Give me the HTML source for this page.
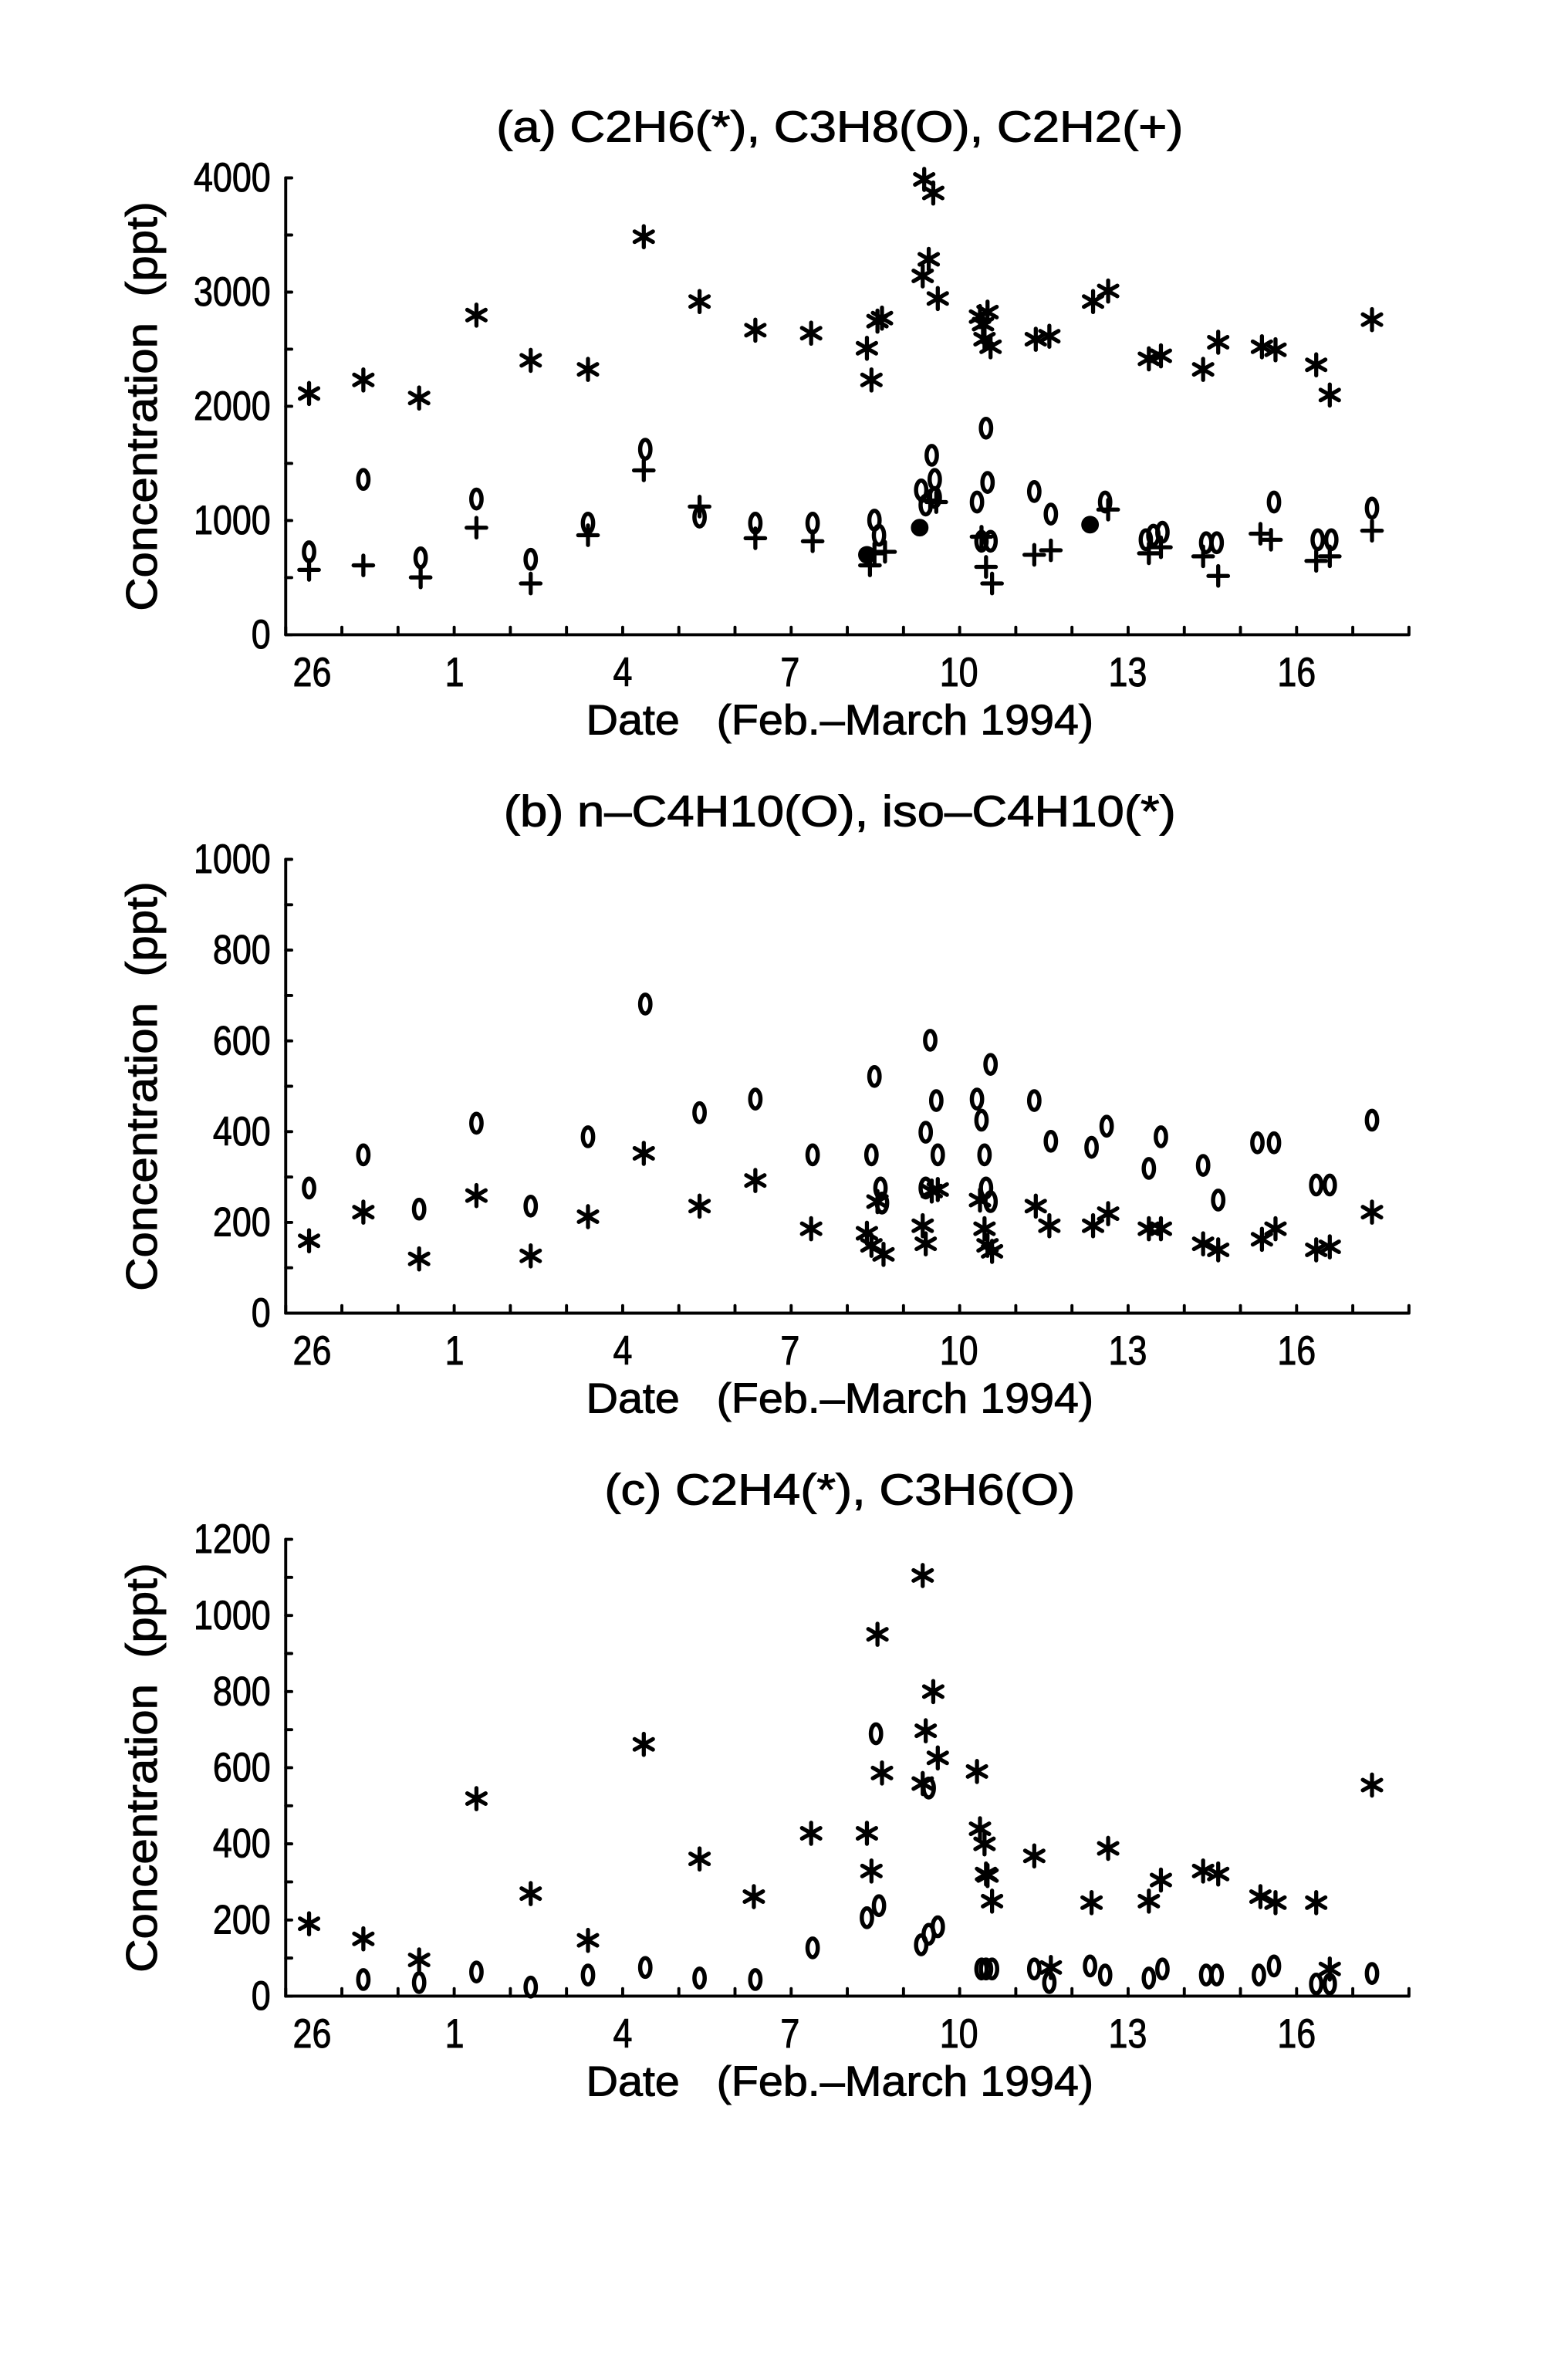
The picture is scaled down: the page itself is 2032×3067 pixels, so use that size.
<!DOCTYPE html>
<html><head><meta charset="utf-8"><style>
html,body{margin:0;padding:0;background:#fff;}
svg{display:block;}
text{font-family:"Liberation Sans",sans-serif;fill:#000;stroke:#000;stroke-width:0.5;white-space:pre;}
</style></head><body>
<svg id="s" width="2032" height="3067" viewBox="0 0 1040 1570" preserveAspectRatio="none" xmlns="http://www.w3.org/2000/svg">
<g id="g" stroke="#000" stroke-width="2.7" fill="none" stroke-linecap="round"></g>
<g id="t"></g>
</svg>
<script>
var g=document.getElementById('g'),t=document.getElementById('t');
var NS='http://www.w3.org/2000/svg';
function L(x1,y1,x2,y2,w){var e=document.createElementNS(NS,'line');e.setAttribute('x1',x1);e.setAttribute('y1',y1);e.setAttribute('x2',x2);e.setAttribute('y2',y2);if(w)e.setAttribute('stroke-width',w);g.appendChild(e);}
function T(x,y,s,fs,anchor,rot,sx){var e=document.createElementNS(NS,'text');e.textContent=s;e.setAttribute('font-size',fs);e.setAttribute('text-anchor',anchor||'middle');
var tr='translate('+x+','+y+')';if(rot)tr+=' rotate('+rot+')';tr+=' scale('+(sx||0.85)+',1)';e.setAttribute('transform',tr);t.appendChild(e);}
function star(x,y){var r=7;L(x,y-r,x,y+r);L(x-r*0.87,y-r*0.5,x+r*0.87,y+r*0.5);L(x-r*0.87,y+r*0.5,x+r*0.87,y-r*0.5);}
function plus(x,y){var r=6.5;L(x-r,y,x+r,y);L(x,y-r,x,y+r);}
function zero(x,y){var e=document.createElementNS(NS,'ellipse');e.setAttribute('cx',x);e.setAttribute('cy',y);e.setAttribute('rx',3.4);e.setAttribute('ry',6.2);e.setAttribute('stroke-width',2.8);g.appendChild(e);}
function dot(x,y){var e=document.createElementNS(NS,'circle');e.setAttribute('cx',x);e.setAttribute('cy',y);e.setAttribute('r',4.5);e.setAttribute('fill','#000');g.appendChild(e);}
function panel(title,ty,yTop,y0,max,labStep,minStep){
  var x0=189.5,x1=934;
  T(557,ty+10,title,29,'middle',0,1.12);
  L(x0,yTop,x0,y0,2);L(x0,y0,x1,y0,2);
  for(var v=0;v<=max;v+=minStep){var y=y0-(y0-yTop)*v/max;L(x0,y,x0+4,y,2);
    if(v%labStep==0)T(x0-10,y+9,String(v),27,'end',0,0.85);}
  for(var k=0;k<=20;k++){var x=x0+37.25*k;L(x,y0,x,y0-5,2);}
  var labs=[[207,'26'],[301.5,'1'],[413,'4'],[524,'7'],[636,'10'],[748,'13'],[860,'16']];
  labs.forEach(function(a){T(a[0],y0+34,a[1],27,'middle',0,0.85);});
  T(557,y0+66,'Date\u00a0\u00a0\u00a0(Feb.\u2013March 1994)',28,'middle',0,1.05);
  T(104,(yTop+y0)/2,'Concentration\u00a0\u00a0(ppt)',29,'middle',-90,1.06);
}
panel('(a) C2H6(*), C3H8(O), C2H2(+)',84,118,421,4000,1000,500);
panel('(b) n\u2013C4H10(O), iso\u2013C4H10(*)',538,570,871,1000,200,100);
panel('(c) C2H4(*), C3H6(O)',988,1021,1324,1200,200,100);
var aS=[[205,261],[241,252],[278,264],[316,209],[352,239],[390,245],[427,157],[464,200],[501,219],[538,221],[575,231],[578,252],[582,213],[585,211],[612,183],[613,119],[619,128],[616,172],[622,198],[650,210],[652,215],[655,207],[653,225],[657,230],[687,225],[696,223],[725,200],[735,193],[762,238],[770,236],[798,245],[808,227],[837,230],[846,232],[873,242],[882,262],[910,212]];
var aO=[[205,366],[241,318],[279,370],[316,331],[352,371],[390,347],[428,298],[464,343],[501,347],[539,347],[580,345],[583,355],[611,325],[618,302],[620,318],[614,335],[620,330],[648,333],[654,284],[655,320],[651,359],[657,359],[686,326],[697,341],[733,333],[765,355],[771,353],[800,360],[807,360],[845,333],[874,358],[883,358],[910,337],[760,358]];
var aD=[[575,368],[610,350],[723,348]];
var aP=[[205,378],[241,375],[279,383],[316,350],[352,387],[390,355],[427,312],[464,336],[501,357],[539,359],[577,375],[580,367],[587,366],[617,332],[621,333],[651,356],[654,376],[658,387],[686,368],[697,365],[735,338],[762,367],[770,363],[798,369],[808,382],[836,354],[843,358],[873,372],[882,369],[910,352]];
var bO=[[205,788],[241,766],[278,802],[316,745],[352,800],[390,754],[428,666],[464,738],[501,729],[539,766],[580,714],[578,766],[584,788],[585,798],[617,690],[614,751],[621,730],[614,788],[622,766],[648,729],[651,743],[657,706],[653,766],[654,788],[657,797],[686,730],[697,757],[724,761],[734,747],[762,775],[770,754],[798,773],[808,796],[834,758],[845,758],[873,786],[882,786],[910,743]];
var bS=[[205,823],[241,804],[278,835],[316,793],[352,833],[390,807],[427,765],[464,800],[501,783],[538,815],[575,818],[578,826],[582,797],[586,832],[612,813],[614,825],[618,790],[622,789],[650,796],[653,815],[655,826],[658,830],[687,800],[696,813],[725,813],[735,805],[762,815],[770,815],[798,825],[808,829],[837,822],[846,815],[873,829],[882,827],[910,804]];
var cS=[[205,1276],[241,1286],[278,1300],[316,1193],[352,1256],[390,1287],[427,1157],[464,1233],[500,1258],[538,1216],[575,1216],[578,1241],[582,1084],[585,1176],[612,1045],[614,1148],[619,1122],[622,1166],[612,1183],[648,1175],[650,1213],[653,1223],[654,1243],[655,1244],[658,1261],[686,1231],[697,1305],[724,1262],[735,1226],[762,1261],[770,1247],[798,1241],[808,1243],[836,1258],[846,1262],[873,1262],[882,1306],[910,1184]];
var cO=[[241,1313],[278,1315],[316,1308],[352,1318],[390,1310],[428,1305],[464,1312],[501,1313],[539,1292],[575,1272],[583,1264],[581,1150],[611,1290],[616,1283],[622,1278],[616,1186],[651,1306],[654,1306],[658,1306],[686,1306],[696,1315],[723,1304],[733,1310],[762,1312],[771,1306],[800,1310],[807,1310],[835,1310],[845,1304],[873,1316],[882,1316],[910,1309]];
aS.forEach(function(p){star(p[0],p[1]);});aO.forEach(function(p){zero(p[0],p[1]);});aD.forEach(function(p){dot(p[0],p[1]);});aP.forEach(function(p){plus(p[0],p[1]);});
bO.forEach(function(p){zero(p[0],p[1]);});bS.forEach(function(p){star(p[0],p[1]);});
cS.forEach(function(p){star(p[0],p[1]);});cO.forEach(function(p){zero(p[0],p[1]);});
</script>
</body></html>
